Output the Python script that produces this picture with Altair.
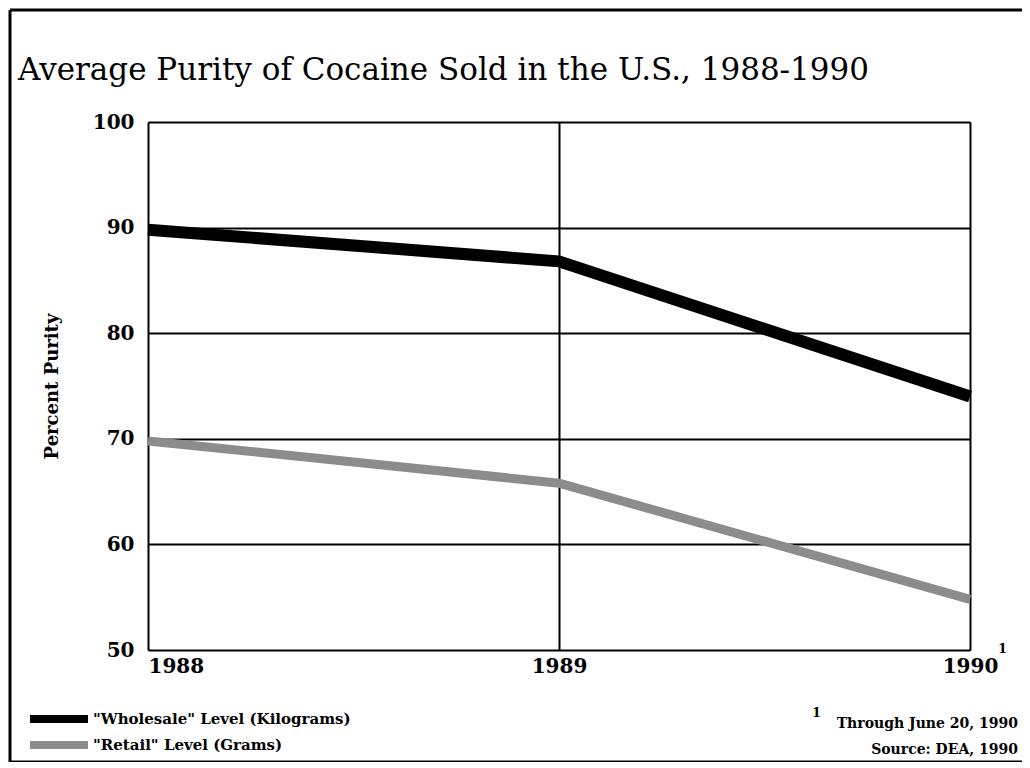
import altair as alt
import pandas as pd

years = [1988, 1989, 1990]
wholesale = [89.8, 86.8, 74.0]
retail = [69.8, 65.8, 54.8]
series_names = ['"Wholesale" Level (Kilograms)', '"Retail" Level (Grams)']
series_colors = ["#000000", "#8c8c8c"]
series_widths = [12, 9]
y_ticks = [50, 60, 70, 80, 90, 100]
title_text = "Average Purity of Cocaine Sold in the U.S., 1988-1990"
y_title = "Percent Purity"
footnote = "Through June 20, 1990"
source = "Source:  DEA, 1990"

rows = []
for name, vals in zip(series_names, [wholesale, retail]):
    for yr, v in zip(years, vals):
        rows.append({"year": yr, "purity": v, "series": name})
df = pd.DataFrame(rows)

SERIF = "DejaVu Serif"
W, H = 822, 528

lines = alt.Chart(df).mark_line(strokeCap="butt", strokeJoin="round").encode(
    x=alt.X(
        "year:O",
        sort=years,
        scale=alt.Scale(type="point", domain=years, padding=0),
        axis=alt.Axis(
            title=None, labelAngle=0, grid=True, gridColor="black", gridWidth=2,
            gridOpacity=1, domain=False, ticks=False, labelFont=SERIF,
            labelFontWeight="bold", labelFontSize=20, labelPadding=6,
            labelColor="black", labelOverlap=False,
            labelAlign={"condition": {"test": "datum.label == '1988'", "value": "left"},
                        "value": "center"},
        ),
    ),
    y=alt.Y(
        "purity:Q",
        scale=alt.Scale(domain=[50, 100], nice=False, zero=False),
        axis=alt.Axis(
            values=y_ticks, labelOverlap=False, title=y_title, grid=True,
            gridColor="black", gridWidth=2, gridOpacity=1, domain=False, ticks=False,
            labelFont=SERIF, labelFontWeight="bold", labelFontSize=20, labelPadding=14,
            labelColor="black", titleFont=SERIF, titleFontWeight="bold", titleFontSize=18,
            titleColor="black", titleAngle=270, titleX=-96, titleY=H / 2,
            titleAlign="center", titleBaseline="middle",
        ),
    ),
    color=alt.Color(
        "series:N", sort=series_names,
        scale=alt.Scale(domain=series_names, range=series_colors), legend=None,
    ),
    strokeWidth=alt.StrokeWidth(
        "series:N", scale=alt.Scale(domain=series_names, range=series_widths), legend=None
    ),
)

# legend drawn as swatches + labels, one row per series
legend_layers = []
for i, (name, col) in enumerate(zip(series_names, series_colors)):
    ypos = 597 + 26 * i
    ld = pd.DataFrame({"t": [name]})
    legend_layers.append(
        alt.Chart(ld).mark_rule(color=col, strokeWidth=8).encode(
            x=alt.value(-118), x2=alt.value(-60), y=alt.value(ypos))
    )
    legend_layers.append(
        alt.Chart(ld).mark_text(
            font=SERIF, fontWeight="bold", fontSize=15, align="left",
            baseline="middle", color="black",
        ).encode(text="t:N", x=alt.value(-55), y=alt.value(ypos))
    )

# superscript on the 1990 tick label
sup_axis = alt.Chart(pd.DataFrame({"t": ["1"]})).mark_text(
    font=SERIF, fontWeight="bold", fontSize=13, align="left", baseline="middle", color="black"
).encode(text="t:N", x=alt.value(850), y=alt.value(527))

notes = alt.Chart(pd.DataFrame({"t": [footnote, source], "yy": [606, 632]})).mark_text(
    font=SERIF, fontWeight="bold", fontSize=14, align="right", baseline="alphabetic", color="black"
).encode(text="t:N", x=alt.value(870), y=alt.Y("yy:Q", scale=None))

sup_note = alt.Chart(pd.DataFrame({"t": ["1"]})).mark_text(
    font=SERIF, fontWeight="bold", fontSize=13, align="left", baseline="middle", color="black"
).encode(text="t:N", x=alt.value(664), y=alt.value(591))

frame_df = pd.DataFrame({"k": [0]})
frame_top = alt.Chart(frame_df).mark_rule(color="black", strokeWidth=3).encode(
    x=alt.value(-138), x2=alt.value(882), y=alt.value(-112))
frame_bottom = alt.Chart(frame_df).mark_rule(color="black", strokeWidth=3).encode(
    x=alt.value(-138), x2=alt.value(882), y=alt.value(640))
frame_left = alt.Chart(frame_df).mark_rule(color="black", strokeWidth=3).encode(
    x=alt.value(-138), y=alt.value(-112), y2=alt.value(640))

chart = alt.layer(
    lines, *legend_layers, sup_axis, notes, sup_note, frame_top, frame_bottom, frame_left
).properties(
    width=W, height=H,
    autosize=alt.AutoSizeParams(type="none"),
    padding={"left": 140, "top": 114, "right": 52, "bottom": 112},
    title=alt.Title(
        title_text, anchor="start", frame="group", dx=-130, dy=102, font=SERIF,
        fontSize=31, fontWeight="normal", color="black", offset=0, baseline="alphabetic",
    ),
).configure_view(stroke="black", strokeWidth=3).configure(background="white")

chart.save("out.html", embed_options={"renderer": "svg", "actions": False})
